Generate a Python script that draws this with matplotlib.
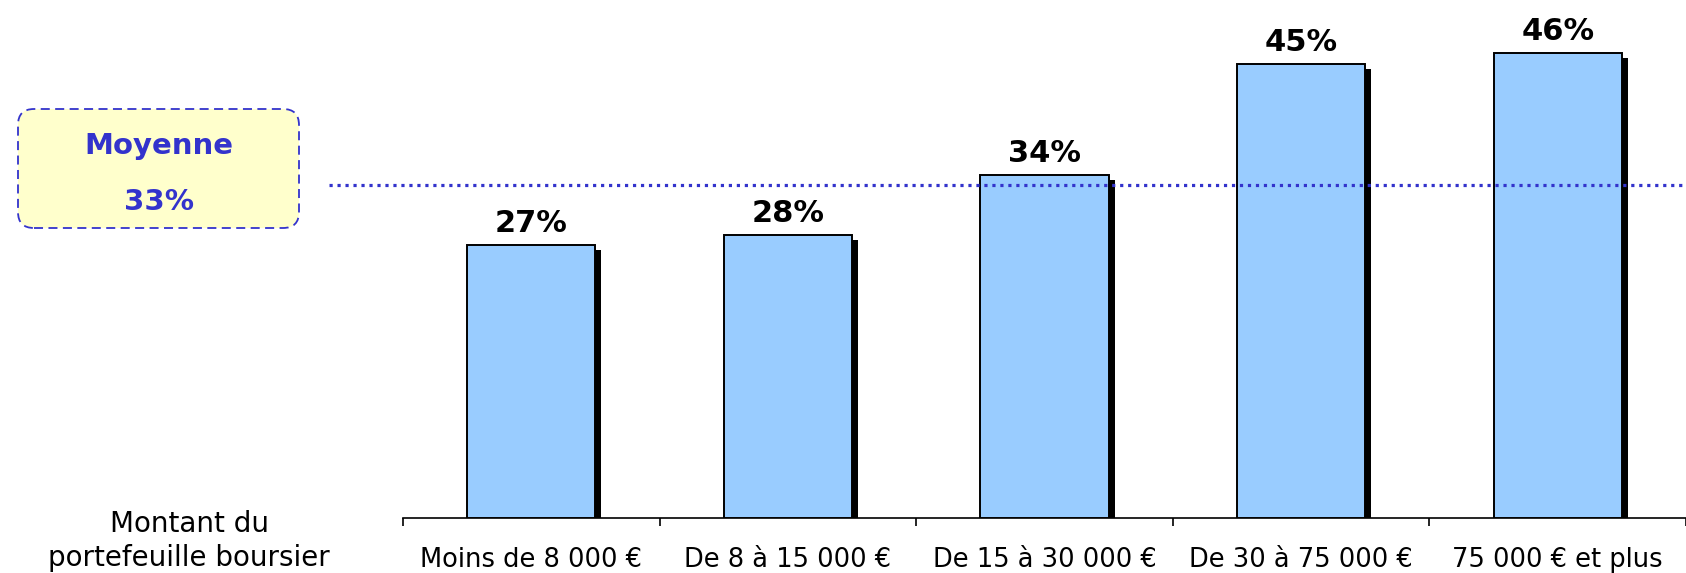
import matplotlib
matplotlib.use("Agg")
import matplotlib.pyplot as plt
from matplotlib.patches import FancyBboxPatch
from matplotlib.transforms import ScaledTranslation

categories = ["Moins de 8 000 €", "De 8 à 15 000 €", "De 15 à 30 000 €",
              "De 30 à 75 000 €", "75 000 € et plus"]
values = [27, 28, 34, 45, 46]
value_labels = ["27%", "28%", "34%", "45%", "46%"]
average = 33
average_label = ["Moyenne", "33%"]
axis_title = "Montant du\nportefeuille boursier"

plt.rcParams['font.family'] = ['DejaVu Sans']
W, H = 1686, 573
fig = plt.figure(figsize=(W / 100, H / 100), dpi=100)
ax = fig.add_axes([403 / W, 55 / H, 1 - 403 / W, 505 / H])

x = list(range(len(categories)))
blue = "#3333CC"

# shadows
shadow_tr = ax.transData + ScaledTranslation(6 / 100, -5 / 100, fig.dpi_scale_trans)
ax.bar(x, values, width=0.5, color="black", edgecolor="black", linewidth=0,
       transform=shadow_tr, zorder=2)
bars = ax.bar(x, values, width=0.5, color="#99CCFF", edgecolor="black",
              linewidth=1.4, zorder=3)

for xi, v, lab in zip(x, values, value_labels):
    ax.annotate(lab, (xi, v), xytext=(0, 5), textcoords="offset points",
                ha="center", va="bottom", fontsize=22, fontweight="bold",
                color="black", zorder=5)

ax.axhline(average, xmin=-0.058, xmax=1, color=blue, linewidth=2.3,
           linestyle=(0, (1, 1.5)), clip_on=False, zorder=4)

ax.set_xlim(-0.5, (W - 403) / 260 - 0.5)
ax.set_ylim(0, 50)
for s in ["top", "right", "left"]:
    ax.spines[s].set_visible(False)
ax.spines["bottom"].set_linewidth(1.2)
ax.set_yticks([])
ax.set_xticks([i - 0.5 for i in range(len(categories) + 1)])
ax.set_xticklabels([])
ax.tick_params(axis="x", which="major", direction="out", length=6, width=1.2)
ax.set_xticks(x, minor=True)
ax.set_xticklabels(categories, minor=True, fontsize=18.5)
ax.tick_params(axis="x", which="minor", length=0, pad=21)

# average box
box = FancyBboxPatch((0.18, 3.45), 2.81, 1.19,
                     boxstyle="round,pad=0,rounding_size=0.16",
                     transform=fig.dpi_scale_trans, facecolor="#FFFFCC",
                     edgecolor=blue, linewidth=1.3, linestyle=(0, (5, 3)))
fig.patches.append(box)
fig.text(159 / W, 1 - 146 / H, average_label[0], ha="center", va="center",
         fontsize=21, fontweight="bold", color=blue)
fig.text(159 / W, 1 - 202 / H, average_label[1], ha="center", va="center",
         fontsize=21, fontweight="bold", color=blue)

fig.text(189 / W, 1 - 541 / H, axis_title, ha="center", va="center",
         fontsize=20, linespacing=1.3, color="black")

fig.savefig("out.png", dpi=100)
